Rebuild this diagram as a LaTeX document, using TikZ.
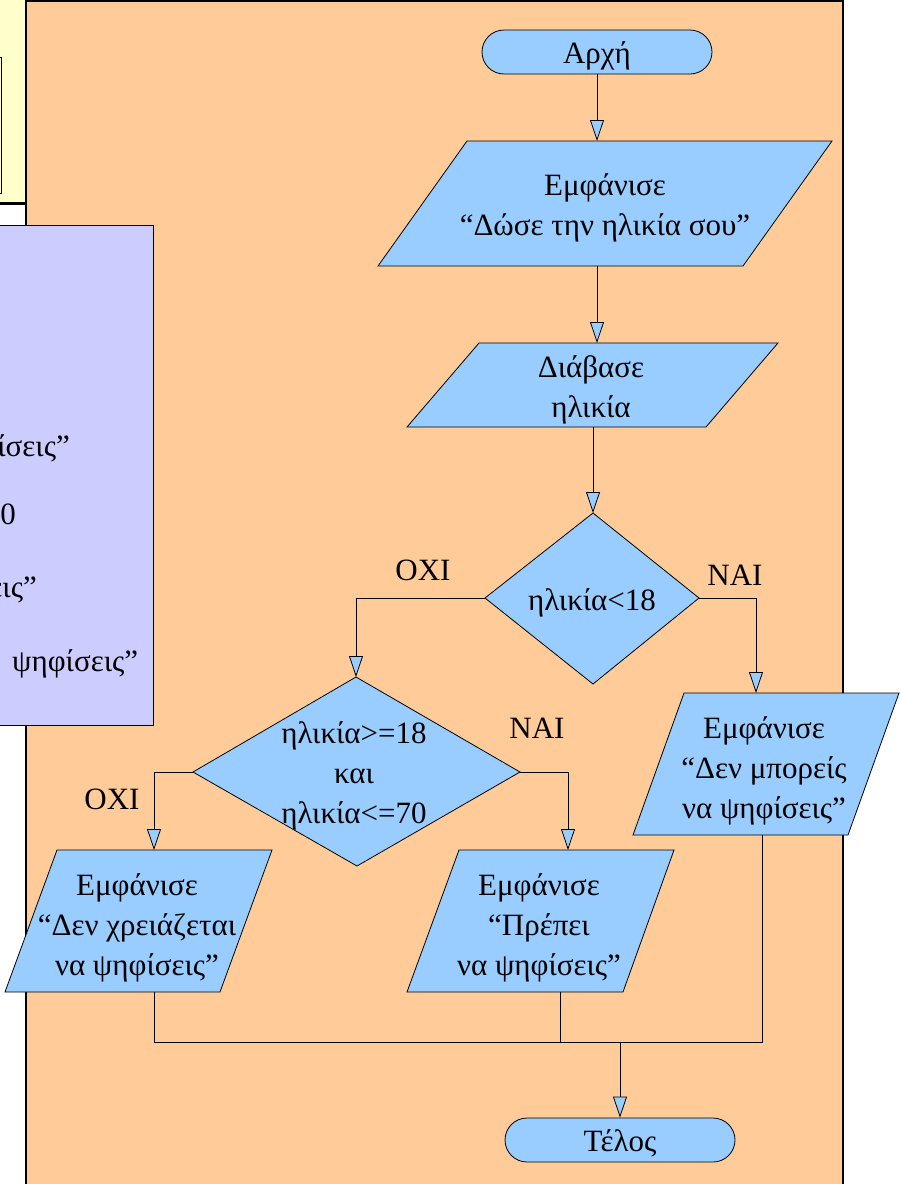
\documentclass[tikz,border=0pt]{standalone}
\usepackage{fontspec}
\setmainfont{Liberation Serif}
\usetikzlibrary{arrows.meta}

\definecolor{flowblue}{HTML}{99CCFF}
\definecolor{panel}{HTML}{FFCC99}
\definecolor{lav}{HTML}{CCCCFF}
\definecolor{pale}{HTML}{FFFFCC}

\newcommand\flowfont{\fontsize{31}{40}\selectfont}

\tikzset{
  box/.style={draw=black, line width=0.8pt, fill=flowblue, line join=miter},
  term/.style={box, rectangle, rounded corners=22pt, minimum width=230pt,
    minimum height=44pt, inner sep=0pt, font=\flowfont,
    text height=22pt, text depth=0pt},
  lbl/.style={font=\flowfont, align=center, inner sep=0pt, text=black},
  tag/.style={font=\flowfont, inner sep=0pt, anchor=base, text=black},
  conn/.style={draw=black, line width=0.8pt},
  arr/.style={conn, -{Triangle[width=14pt,length=21pt,fill=flowblue,line width=0.8pt]}},
}

\begin{document}
\begin{tikzpicture}[x=1pt, y=-1pt]
  \useasboundingbox (0,0) rectangle (901,1184);
  \clip (0,0) rectangle (901,1184);
  \fill[white] (0,0) rectangle (901,1184);

  % neighbouring slide elements
  \fill[pale] (0,0) rectangle (26,203);
  \draw[black, line width=0.8pt] (-5,57) rectangle (1.5,193);
  \draw[black, line width=2.5pt] (0,203.5) -- (26,203.5);

  % main panel
  \path[fill=panel, draw=black, line width=1.2pt] (26,1) rectangle (843,1195);

  % side panel with its text
  \path[fill=lav, draw=black, line width=1pt] (-5,225) rectangle (153,725);
  \begin{scope}
    \clip (0,225) rectangle (153,725);
    \node[tag, anchor=base east] (s1) at (70,456) {ψηφίσεις”};
    \node[tag, anchor=base east] (s2) at (16,524) {<=70};
    \node[tag, anchor=base east] (s3) at (37,597) {ψηφίσεις”};
    \node[tag, anchor=base west] (s4) at (12,671) {ψηφίσεις”};
  \end{scope}

  % start / end
  \node[term] (start) at (597,52) {Αρχή};
  \node[term] (stop) at (620,1140) {Τέλος};

  % input / output boxes
  \path[box] (467,141) -- (832,141) -- (743,266) -- (378,266) -- cycle;
  \node[lbl] (p1) at (605,207.5) {Εμφάνισε\\“Δώσε την ηλικία σου”};
  \coordinate (p1in) at (597,141);
  \coordinate (p1out) at (597,266);

  \path[box] (479,343) -- (778,343) -- (706,427) -- (407,427) -- cycle;
  \node[lbl] (p2) at (591,389.5) {Διάβασε\\ηλικία};
  \coordinate (p2in) at (597,343);
  \coordinate (p2out) at (593,427);

  \path[box] (684,693) -- (899,693) -- (848,835) -- (633,835) -- cycle;
  \node[lbl] (p3) at (764,771) {Εμφάνισε\\“Δεν μπορείς\\να ψηφίσεις”};
  \coordinate (p3in) at (756,693);
  \coordinate (p3out) at (762,835);

  \path[box] (57,850) -- (272,850) -- (220,992) -- (5,992) -- cycle;
  \node[lbl] (p4) at (137,927.5) {Εμφάνισε\\“Δεν χρειάζεται\\να ψηφίσεις”};
  \coordinate (p4in) at (154,850);
  \coordinate (p4out) at (154,992);

  \path[box] (459,850) -- (674,850) -- (623,992) -- (407,992) -- cycle;
  \node[lbl] (p5) at (539,927.5) {Εμφάνισε\\“Πρέπει\\να ψηφίσεις”};
  \coordinate (p5in) at (568,850);
  \coordinate (p5out) at (560,992);

  % decisions
  \coordinate (d1n) at (593,513);
  \coordinate (d1e) at (699,598);
  \coordinate (d1s) at (593,684);
  \coordinate (d1w) at (485,598);
  \path[box] (d1n) -- (d1e) -- (d1s) -- (d1w) -- cycle;
  \node[lbl] (d1) at (592,602.5) {ηλικία<18};

  \coordinate (d2n) at (356,677);
  \coordinate (d2e) at (520,772);
  \coordinate (d2s) at (357,866);
  \coordinate (d2w) at (193,772);
  \path[box] (d2n) -- (d2e) -- (d2s) -- (d2w) -- cycle;
  \node[lbl] (d2) at (354,775.5) {ηλικία>=18\\και\\ηλικία<=70};

  % branch labels
  \node[tag] (no1) at (423,580) {ΟΧΙ};
  \node[tag] (yes1) at (735,585) {ΝΑΙ};
  \node[tag] (yes2) at (537,738) {ΝΑΙ};
  \node[tag] (no2) at (112,809) {ΟΧΙ};

  % connectors
  \draw[arr] (start.south) -- (p1in);
  \draw[arr] (p1out) -- (p2in);
  \draw[arr] (p2out) -- (d1n);
  \draw[arr] (d1w) -| (d2n);
  \draw[arr] (d1e) -| (p3in);
  \draw[arr] (d2w) -| (p4in);
  \draw[arr] (d2e) -| (p5in);

  \coordinate (jl) at (154,1042);
  \coordinate (jr) at (762,1042);
  \coordinate (jm) at (620,1042);
  \draw[conn] (p4out) -- (jl) -- (jr) -- (p3out);
  \draw[conn] (p5out) -- (p5out |- jl);
  \draw[arr] (jm) -- (stop.north);
\end{tikzpicture}
\end{document}
